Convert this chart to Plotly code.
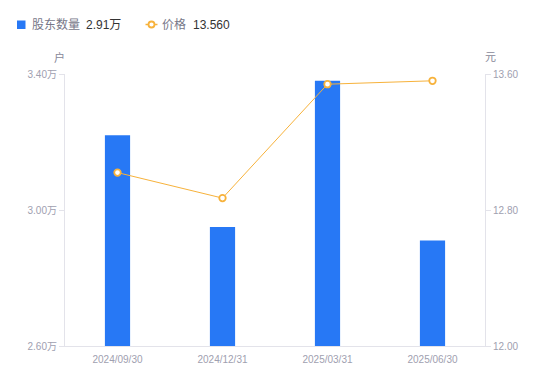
import plotly.graph_objects as go

categories = ["2024/09/30", "2024/12/31", "2025/03/31", "2025/06/30"]
holders = [3.22, 2.95, 3.38, 2.91]          # 万户
price = [13.02, 12.87, 13.54, 13.56]       # 元
left_ticks = [2.60, 3.00, 3.40]
left_tick_text = ["2.60万", "3.00万", "3.40万"]
right_ticks = [12.00, 12.80, 13.60]
right_tick_text = ["12.00", "12.80", "13.60"]
legend_names = ["股东数量", "价格"]
legend_values = ["2.91万", "13.560"]

FONT = "Liberation Sans, Noto Sans CJK SC, sans-serif"
GRAY = "#a0a0b0"
AXIS = "#e3e3ea"
BLUE = "#2778f5"
ORANGE = "#f7b23b"

W, H = 550, 381
L, R, T, B = 65, 65, 74, 35
PW, PH = W - L - R, H - T - B

def px(x):
    return (x - L) / PW

def py(y):
    return (H - B - y) / PH

fig = go.Figure()
fig.add_trace(go.Bar(
    x=categories, y=holders, width=0.24,
    marker=dict(color=BLUE, line=dict(width=0)),
    name=legend_names[0], yaxis="y",
))
fig.add_trace(go.Scatter(
    x=categories, y=price, mode="lines+markers",
    line=dict(color=ORANGE, width=1),
    marker=dict(symbol="circle", size=6.5, color="white",
                line=dict(color=ORANGE, width=1.8)),
    name=legend_names[1], yaxis="y2",
))

shapes = [
    dict(type="rect", xref="paper", yref="paper",
         x0=px(17), x1=px(25.5), y0=py(20.5), y1=py(29),
         fillcolor=BLUE, line=dict(width=0)),
    dict(type="line", xref="paper", yref="paper",
         x0=px(145.5), x1=px(157.5), y0=py(24.5), y1=py(24.5),
         line=dict(color=ORANGE, width=1.5)),
    dict(type="circle", xref="paper", yref="paper",
         x0=px(148.5), x1=px(154.5), y0=py(21.5), y1=py(27.5),
         fillcolor="white", line=dict(color=ORANGE, width=1.8)),
]

def ann(text, x, y, color, size=12, xanchor="left"):
    return dict(text=text, xref="paper", yref="paper", x=px(x), y=py(y),
                xanchor=xanchor, yanchor="middle", showarrow=False,
                font=dict(size=size, color=color, family=FONT))

annotations = [
    ann(legend_names[0], 30, 25, "#777788", 12),
    ann(legend_values[0], 84, 25, "#333333", 12),
    ann(legend_names[1], 160, 25, "#777788", 12),
    ann(legend_values[1], 191, 25, "#333333", 12),
    ann("户", 59, 57, "#888899", 11, "center"),
    ann("元", 490, 57, "#888899", 11, "center"),
]

fig.update_layout(
    width=W, height=H,
    margin=dict(l=L, r=R, t=T, b=B),
    paper_bgcolor="white", plot_bgcolor="white",
    font=dict(family=FONT, size=11, color=GRAY),
    showlegend=False,
    shapes=shapes, annotations=annotations,
    xaxis=dict(type="category", range=[-0.5, 3.5], showgrid=False,
               showline=True, linecolor=AXIS, linewidth=1, ticks="",
               tickfont=dict(size=10, color=GRAY), zeroline=False,
               ticklabelstandoff=4, automargin=False),
    yaxis=dict(range=[2.60, 3.40], tickvals=left_ticks, ticktext=left_tick_text,
               showgrid=False, showline=True, linecolor=AXIS, linewidth=1,
               ticks="outside", ticklen=5, tickcolor=AXIS,
               tickfont=dict(size=10, color=GRAY), zeroline=False,
               automargin=False),
    yaxis2=dict(range=[12.00, 13.60], tickvals=right_ticks, ticktext=right_tick_text,
                overlaying="y", side="right", showgrid=False, showline=True,
                linecolor=AXIS, linewidth=1, ticks="outside", ticklen=5,
                tickcolor=AXIS, tickfont=dict(size=10, color=GRAY), zeroline=False,
                automargin=False),
)

fig.write_html("out.html", config={"displayModeBar": False},
               post_script="document.body.style.margin='0';document.body.style.overflow='hidden';")
